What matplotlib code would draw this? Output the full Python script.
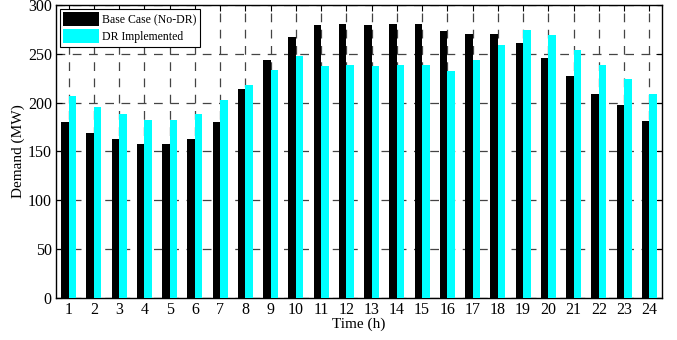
import numpy as np
import matplotlib.pyplot as plt

hours = list(range(1, 25))
base_case = [180, 169, 163, 158, 158, 163, 180, 214, 244, 267, 279, 281,
             279, 281, 281, 273, 270, 270, 261, 246, 227, 209, 197, 181]
dr_impl = [207, 195, 188, 182, 182, 188, 203, 218, 233, 248, 237, 239,
           237, 239, 239, 232, 244, 259, 274, 269, 254, 239, 224, 209]
y_ticks = [0, 50, 100, 150, 200, 250, 300]

plt.rcParams['font.family'] = ['Liberation Serif', 'DejaVu Serif']

fig = plt.figure(figsize=(6.77, 3.4), dpi=100)
ax = fig.add_axes([56 / 677, 1 - 297.7 / 340, (662 - 56) / 677, (297.7 - 5) / 340])

x = np.array(hours)
w = 0.3
ax.bar(x - w / 2, base_case, w, color='black', label='Base Case (No-DR)', zorder=3)
ax.bar(x + w / 2, dr_impl, w, color='cyan', label='DR Implemented', zorder=3)

ax.set_xlim(0.5, 24.5)
ax.set_ylim(0, 300)
ax.set_xticks(hours)
ax.set_yticks(y_ticks)
ax.tick_params(direction='in', top=True, right=True, labelsize=11.5, length=4, pad=3)
ax.grid(True, linestyle=(0, (7, 6)), color='#444444', linewidth=0.9, zorder=0)
for s in ax.spines.values():
    s.set_linewidth(1.0)

ax.set_xlabel('Time (h)', fontsize=11, labelpad=0)
ax.set_ylabel('Demand (MW)', fontsize=11, labelpad=2)

leg = ax.legend(loc='upper left', fontsize=8.5, fancybox=False, framealpha=1,
                edgecolor='black', handlelength=3.0, handleheight=1.5,
                borderaxespad=0.3, borderpad=0.3, labelspacing=0.2, handletextpad=0.3)
leg.get_frame().set_linewidth(0.8)
leg.set_zorder(5)

plt.savefig('out.png', dpi=100)
plt.close()
